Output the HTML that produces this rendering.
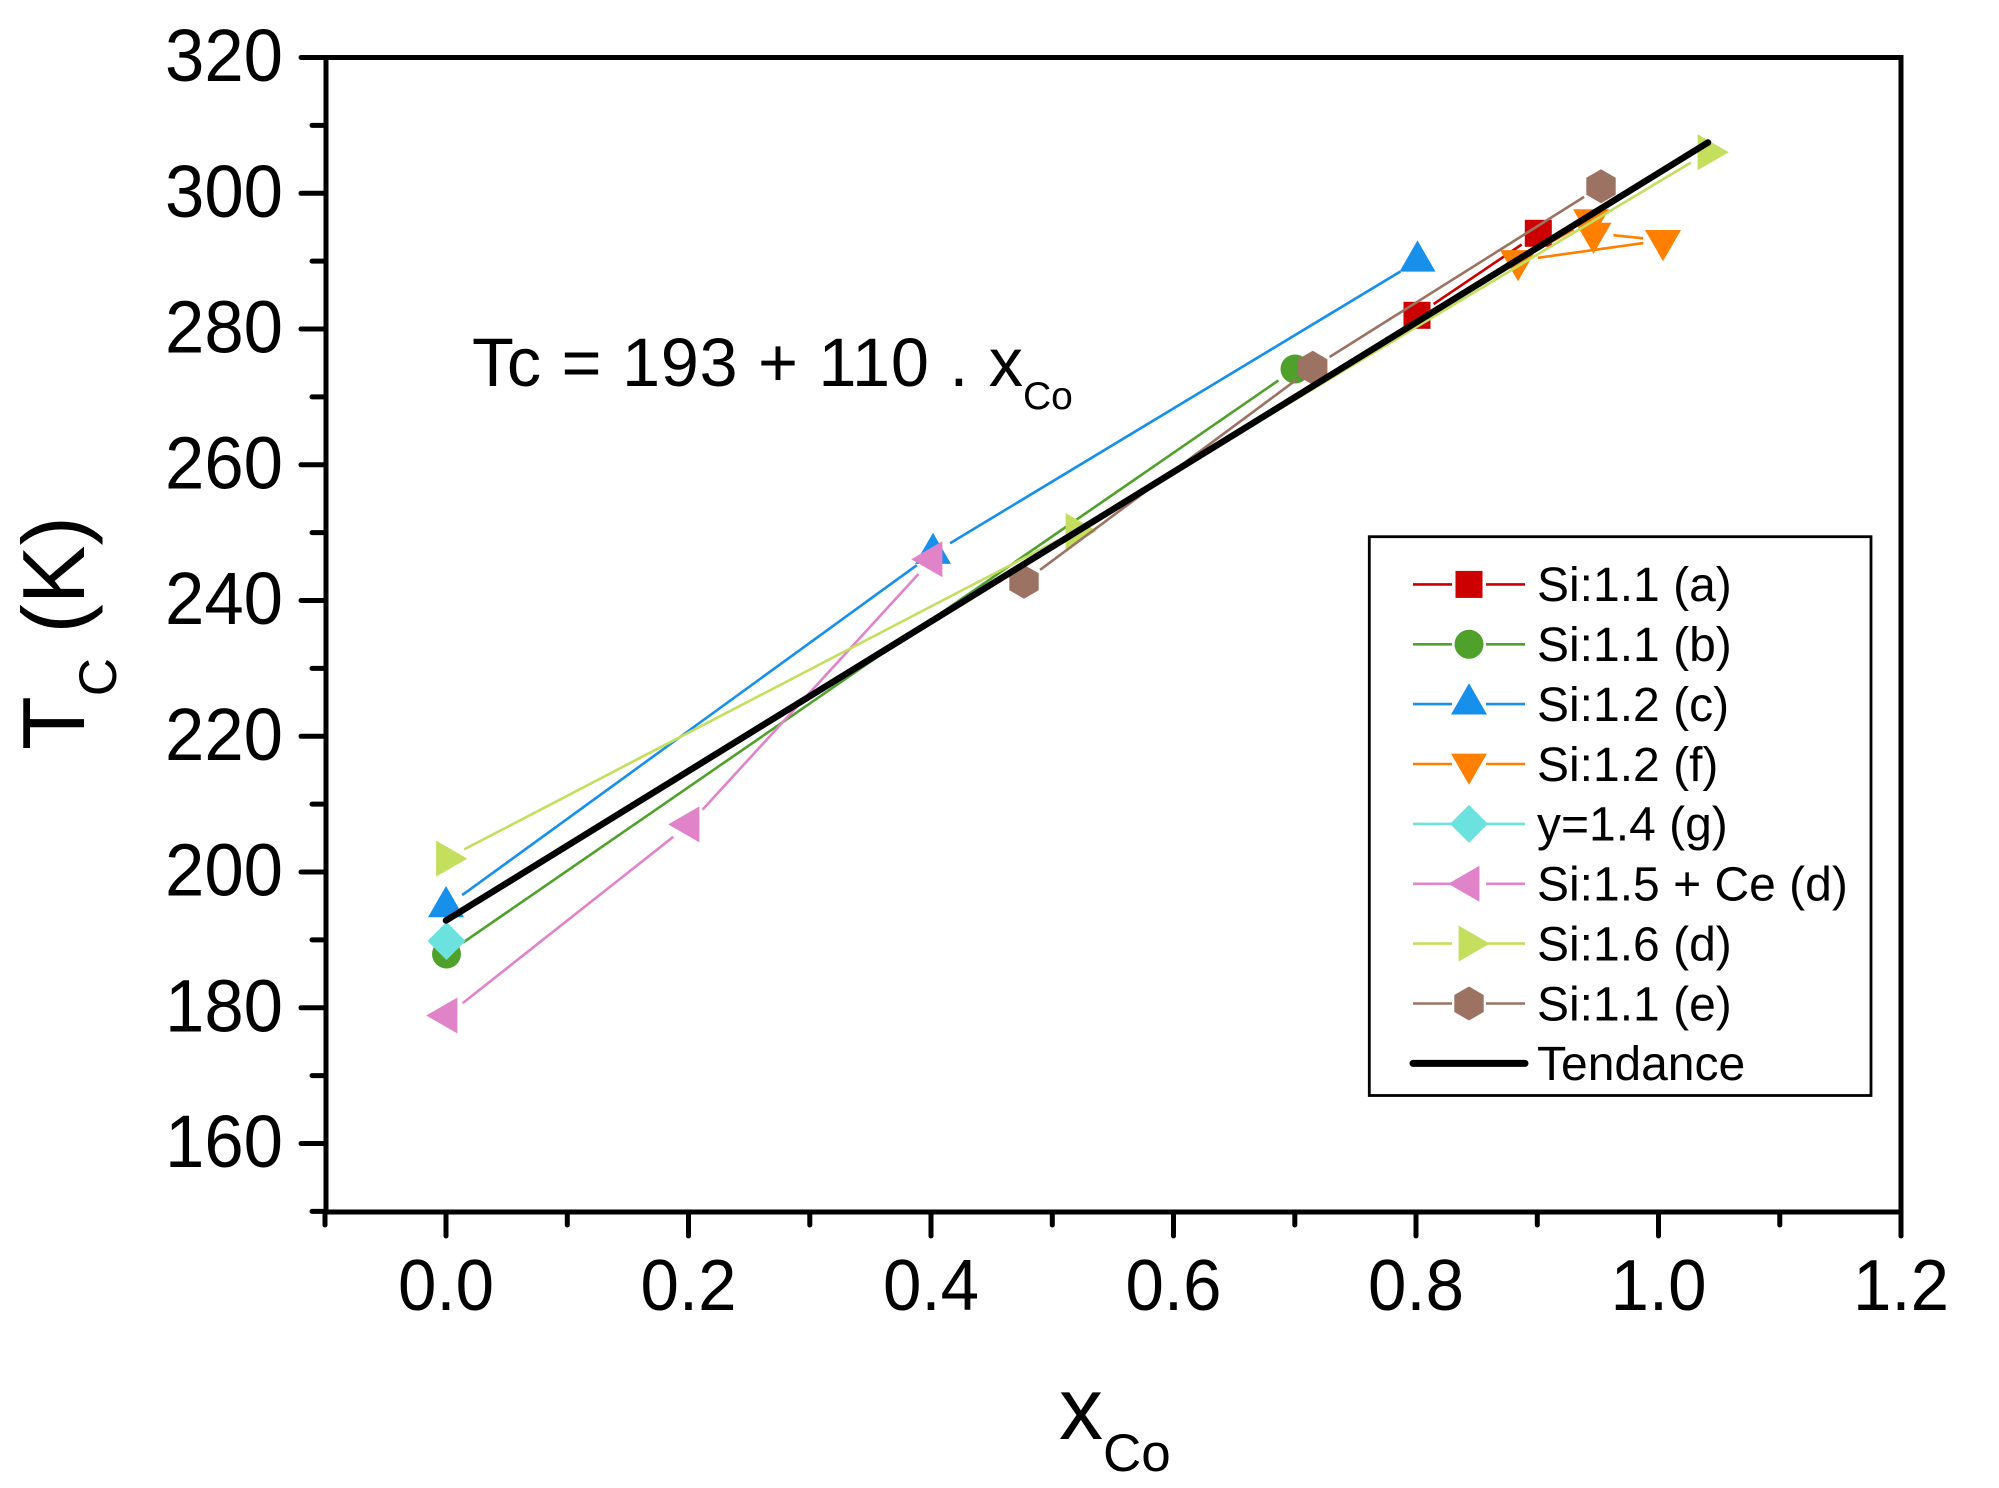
<!DOCTYPE html>
<html>
<head>
<meta charset="utf-8">
<style>
html,body{margin:0;padding:0;background:#fff;}
svg{display:block;}
text{font-family:"Liberation Sans",Arial,sans-serif;fill:#000;}
</style>
</head>
<body>
<svg width="1999" height="1488" viewBox="0 0 1999 1488" xmlns="http://www.w3.org/2000/svg">
<rect x="0" y="0" width="1999" height="1488" fill="#fff"/>

<!-- ticks -->
<g stroke="#000" stroke-width="5" stroke-linecap="round">
  <line x1="301" y1="57.5" x2="326" y2="57.5"/>
  <line x1="301" y1="193.3" x2="326" y2="193.3"/>
  <line x1="301" y1="329" x2="326" y2="329"/>
  <line x1="301" y1="464.8" x2="326" y2="464.8"/>
  <line x1="301" y1="600.5" x2="326" y2="600.5"/>
  <line x1="301" y1="736.3" x2="326" y2="736.3"/>
  <line x1="301" y1="872" x2="326" y2="872"/>
  <line x1="301" y1="1007.8" x2="326" y2="1007.8"/>
  <line x1="301" y1="1143.5" x2="326" y2="1143.5"/>
  <line x1="312" y1="125.4" x2="326" y2="125.4"/>
  <line x1="312" y1="261.1" x2="326" y2="261.1"/>
  <line x1="312" y1="396.9" x2="326" y2="396.9"/>
  <line x1="312" y1="532.6" x2="326" y2="532.6"/>
  <line x1="312" y1="668.4" x2="326" y2="668.4"/>
  <line x1="312" y1="804.1" x2="326" y2="804.1"/>
  <line x1="312" y1="939.9" x2="326" y2="939.9"/>
  <line x1="312" y1="1075.6" x2="326" y2="1075.6"/>
  <line x1="312" y1="1211.4" x2="326" y2="1211.4"/>
  <line x1="446" y1="1212" x2="446" y2="1236"/>
  <line x1="688.5" y1="1212" x2="688.5" y2="1236"/>
  <line x1="931" y1="1212" x2="931" y2="1236"/>
  <line x1="1173.5" y1="1212" x2="1173.5" y2="1236"/>
  <line x1="1416" y1="1212" x2="1416" y2="1236"/>
  <line x1="1658.5" y1="1212" x2="1658.5" y2="1236"/>
  <line x1="1901" y1="1212" x2="1901" y2="1236"/>
  <line x1="325" y1="1212" x2="325" y2="1225"/>
  <line x1="567.3" y1="1212" x2="567.3" y2="1225"/>
  <line x1="809.8" y1="1212" x2="809.8" y2="1225"/>
  <line x1="1052.3" y1="1212" x2="1052.3" y2="1225"/>
  <line x1="1294.8" y1="1212" x2="1294.8" y2="1225"/>
  <line x1="1537.3" y1="1212" x2="1537.3" y2="1225"/>
  <line x1="1779.8" y1="1212" x2="1779.8" y2="1225"/>
</g>

<!-- frame -->
<path d="M326,57.5 H1901 V1212 H326 Z" fill="none" stroke="#000" stroke-width="5"/>

<!-- Y tick labels -->
<g font-size="74" text-anchor="end">
  <text x="283" y="81" textLength="118" lengthAdjust="spacingAndGlyphs">320</text>
  <text x="283" y="216.8" textLength="118" lengthAdjust="spacingAndGlyphs">300</text>
  <text x="283" y="352.5" textLength="118" lengthAdjust="spacingAndGlyphs">280</text>
  <text x="283" y="488.3" textLength="118" lengthAdjust="spacingAndGlyphs">260</text>
  <text x="283" y="624" textLength="118" lengthAdjust="spacingAndGlyphs">240</text>
  <text x="283" y="759.8" textLength="118" lengthAdjust="spacingAndGlyphs">220</text>
  <text x="283" y="895.5" textLength="118" lengthAdjust="spacingAndGlyphs">200</text>
  <text x="283" y="1031.3" textLength="118" lengthAdjust="spacingAndGlyphs">180</text>
  <text x="283" y="1167" textLength="118" lengthAdjust="spacingAndGlyphs">160</text>
</g>

<!-- X tick labels -->
<g font-size="72" text-anchor="middle">
  <text x="446" y="1310" textLength="96" lengthAdjust="spacingAndGlyphs">0.0</text>
  <text x="688.5" y="1310" textLength="96" lengthAdjust="spacingAndGlyphs">0.2</text>
  <text x="931" y="1310" textLength="96" lengthAdjust="spacingAndGlyphs">0.4</text>
  <text x="1173.5" y="1310" textLength="96" lengthAdjust="spacingAndGlyphs">0.6</text>
  <text x="1416" y="1310" textLength="96" lengthAdjust="spacingAndGlyphs">0.8</text>
  <text x="1658.5" y="1310" textLength="96" lengthAdjust="spacingAndGlyphs">1.0</text>
  <text x="1901" y="1310" textLength="96" lengthAdjust="spacingAndGlyphs">1.2</text>
</g>

<!-- axis titles -->
<text x="1059" y="1439" font-size="88">x<tspan font-size="53" dy="32">Co</tspan></text>
<text transform="translate(84,750) rotate(-90)" font-size="88">T<tspan font-size="53" dy="32">C</tspan><tspan dy="-32" font-size="88"> (K)</tspan></text>

<!-- annotation -->
<text x="472" y="386" font-size="68.5" textLength="551" lengthAdjust="spacing">Tc = 193 + 110 . x</text>
<text x="1023" y="409" font-size="39">Co</text>

<!-- red a -->
<line x1="1433.6" y1="304.1" x2="1521.7" y2="244.5" stroke="#cc0000" stroke-width="2.6"/>
<g fill="#cc0000">
  <rect x="1403.5" y="301.8" width="27" height="27"/>
  <rect x="1524.8" y="219.8" width="27" height="27"/>
</g>

<!-- green b -->
<line x1="463" y1="942.6" x2="1278.5" y2="380.4" stroke="#4fa12b" stroke-width="2.6"/>
<g fill="#4fa12b">
  <circle cx="446.5" cy="954" r="14.5"/>
  <circle cx="1295" cy="369" r="14.5"/>
</g>

<!-- blue c -->
<g stroke="#1690ea" stroke-width="2.6">
  <line x1="462.2" y1="895.1" x2="916.8" y2="565.2"/>
  <line x1="950.1" y1="543.2" x2="1400.4" y2="271.5"/>
</g>
<g fill="#1690ea">
  <polygon points="446,886 428,917.2 464,917.2"/>
  <polygon points="933,532.7 915,563.9 951,563.9"/>
  <polygon points="1417.5,240.4 1399.5,271.6 1435.5,271.6"/>
</g>

<!-- orange f -->
<g stroke="#ff8000" stroke-width="2.6">
  <line x1="1573.5" y1="229.5" x2="1535.5" y2="250.7"/>
  <line x1="1537.8" y1="257.8" x2="1643.2" y2="243.1"/>
  <line x1="1643.1" y1="238.3" x2="1613.4" y2="235.2"/>
</g>
<g fill="#ff8000">
  <polygon points="1500,250.1 1536,250.1 1518,281.3"/>
  <polygon points="1573,209.3 1609,209.3 1591,240.5"/>
  <polygon points="1575.5,222.7 1611.5,222.7 1593.5,253.9"/>
  <polygon points="1645,230 1681,230 1663,261.2"/>
</g>

<!-- cyan g -->
<polygon points="446.5,922 465.5,941 446.5,960 427.5,941" fill="#6ce2de"/>

<!-- pink d -->
<g stroke="#e083c9" stroke-width="2.6">
  <line x1="462.7" y1="1003.1" x2="673.3" y2="836.8"/>
  <line x1="702.5" y1="809.7" x2="918.5" y2="574"/>
</g>
<g fill="#e083c9">
  <polygon points="426.2,1015.5 457.4,997.5 457.4,1033.5"/>
  <polygon points="668.2,824.4 699.4,806.4 699.4,842.4"/>
  <polygon points="911.2,559.2 942.4,541.2 942.4,577.2"/>
</g>

<!-- lime d -->
<g stroke="#c4de5e" stroke-width="2.6">
  <line x1="464.2" y1="849.4" x2="1058.3" y2="540.2"/>
  <line x1="1093.2" y1="520.7" x2="1690.8" y2="162.6"/>
</g>
<g fill="#c4de5e">
  <polygon points="467.3,858.6 436.1,840.6 436.1,876.6"/>
  <polygon points="1096.8,531 1065.6,513 1065.6,549"/>
  <polygon points="1728.8,152.3 1697.6,134.3 1697.6,170.3"/>
</g>

<!-- brown e -->
<g stroke="#9c7262" stroke-width="2.6">
  <line x1="1040.1" y1="569.8" x2="1296.6" y2="379.6"/>
  <line x1="1329.6" y1="357" x2="1584.1" y2="196.9"/>
</g>
<g fill="#9c7262">
  <polygon points="1024,564.7 1038.7,573.2 1038.7,590.2 1024,598.7 1009.3,590.2 1009.3,573.2"/>
  <polygon points="1312.7,350.7 1327.4,359.2 1327.4,376.2 1312.7,384.7 1298,376.2 1298,359.2"/>
  <polygon points="1601,169.3 1615.7,177.8 1615.7,194.8 1601,203.3 1586.3,194.8 1586.3,177.8"/>
</g>

<!-- trend -->
<line x1="446" y1="920.5" x2="1708" y2="142.5" stroke="#000" stroke-width="6.5" stroke-linecap="round"/>

<!-- legend -->
<rect x="1369.3" y="536.7" width="501.7" height="558.8" fill="#fff" stroke="#000" stroke-width="2.8"/>
<g stroke-width="2.6">
  <line x1="1413" y1="584.4" x2="1452" y2="584.4" stroke="#cc0000"/>
  <line x1="1486" y1="584.4" x2="1525" y2="584.4" stroke="#cc0000"/>
  <line x1="1413" y1="644.3" x2="1452" y2="644.3" stroke="#4fa12b"/>
  <line x1="1486" y1="644.3" x2="1525" y2="644.3" stroke="#4fa12b"/>
  <line x1="1413" y1="704.1" x2="1452" y2="704.1" stroke="#1690ea"/>
  <line x1="1486" y1="704.1" x2="1525" y2="704.1" stroke="#1690ea"/>
  <line x1="1413" y1="764" x2="1452" y2="764" stroke="#ff8000"/>
  <line x1="1486" y1="764" x2="1525" y2="764" stroke="#ff8000"/>
  <line x1="1413" y1="823.9" x2="1452" y2="823.9" stroke="#6ce2de"/>
  <line x1="1486" y1="823.9" x2="1525" y2="823.9" stroke="#6ce2de"/>
  <line x1="1413" y1="883.8" x2="1452" y2="883.8" stroke="#e083c9"/>
  <line x1="1486" y1="883.8" x2="1525" y2="883.8" stroke="#e083c9"/>
  <line x1="1413" y1="943.6" x2="1452" y2="943.6" stroke="#c4de5e"/>
  <line x1="1486" y1="943.6" x2="1525" y2="943.6" stroke="#c4de5e"/>
  <line x1="1413" y1="1003.5" x2="1452" y2="1003.5" stroke="#9c7262"/>
  <line x1="1486" y1="1003.5" x2="1525" y2="1003.5" stroke="#9c7262"/>
</g>
<rect x="1455.5" y="570.9" width="27" height="27" fill="#cc0000"/>
<circle cx="1469" cy="644.3" r="14.5" fill="#4fa12b"/>
<polygon points="1469,683.3 1451,714.5 1487,714.5" fill="#1690ea"/>
<polygon points="1451,753.6 1487,753.6 1469,784.8" fill="#ff8000"/>
<polygon points="1469,804.9 1488,823.9 1469,842.9 1450,823.9" fill="#6ce2de"/>
<polygon points="1448.2,883.8 1479.4,865.8 1479.4,901.8" fill="#e083c9"/>
<polygon points="1489.8,943.6 1458.6,925.6 1458.6,961.6" fill="#c4de5e"/>
<polygon points="1469,986.5 1483.7,995 1483.7,1012 1469,1020.5 1454.3,1012 1454.3,995" fill="#9c7262"/>
<line x1="1413" y1="1063.4" x2="1525" y2="1063.4" stroke="#000" stroke-width="7" stroke-linecap="round"/>

<g font-size="48">
  <text x="1537" y="601.2">Si:1.1 (a)</text>
  <text x="1537" y="661.1">Si:1.1 (b)</text>
  <text x="1537" y="720.9">Si:1.2 (c)</text>
  <text x="1537" y="780.8">Si:1.2 (f)</text>
  <text x="1537" y="840.7">y=1.4 (g)</text>
  <text x="1537" y="900.6">Si:1.5 + Ce (d)</text>
  <text x="1537" y="960.4">Si:1.6 (d)</text>
  <text x="1537" y="1020.3">Si:1.1 (e)</text>
  <text x="1537" y="1080">Tendance</text>
</g>
</svg>
</body>
</html>
